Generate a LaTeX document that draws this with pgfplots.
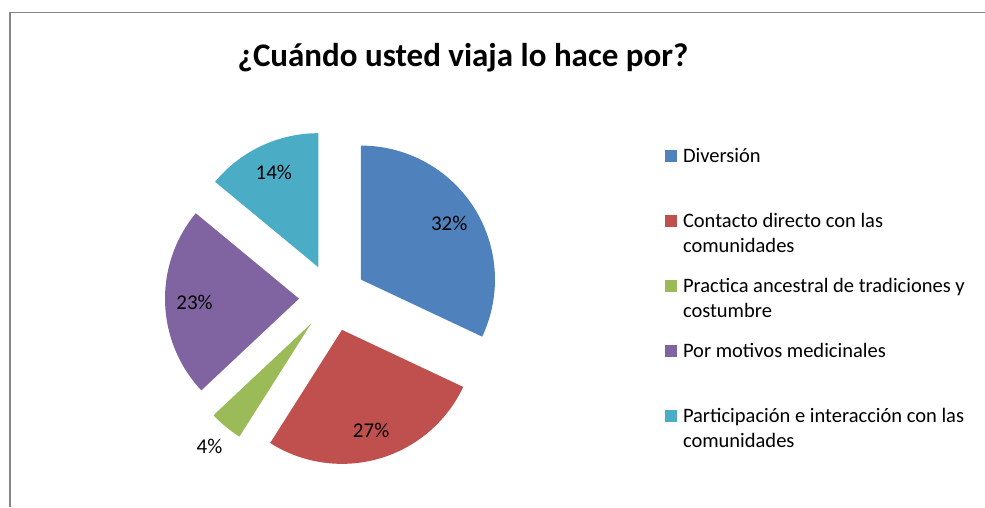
\documentclass[border=0pt]{standalone}
\usepackage{pgfplots}
\pgfplotsset{compat=1.18}
\usepackage{fontspec}
\setmainfont{Carlito}
\definecolor{cblue}{HTML}{4F81BD}
\definecolor{cred}{HTML}{C0504D}
\definecolor{cgreen}{HTML}{9BBB59}
\definecolor{cpurple}{HTML}{8064A2}
\definecolor{ccyan}{HTML}{4BACC6}
\definecolor{framegray}{HTML}{868686}
\def\cx{332.6}\def\cy{209.4}\def\rad{134}\def\dexp{33.6}
% #1 cumulative share before, #2 share, #3 colour, #4 label distance factor
\newcommand\slice[4]{%
  \pgfmathsetmacro\sa{90-3.6*#1}%
  \pgfmathsetmacro\ea{90-3.6*(#1+#2)}%
  \pgfmathsetmacro\ma{(\sa+\ea)/2}%
  \pgfmathsetmacro\apx{\cx+\dexp*cos(\ma)}%
  \pgfmathsetmacro\apy{\cy+\dexp*sin(\ma)}%
  \pgfmathsetmacro\lx{\apx+#4*\rad*cos(\ma)}%
  \pgfmathsetmacro\ly{\apy+#4*\rad*sin(\ma)}%
  \edef\next{\noexpand\addplot[fill=#3,draw=none,domain=\ea:\sa,samples=90]
     ({\apx+\rad*cos(x)},{\apy+\rad*sin(x)}) -- (axis cs:\apx,\apy) -- cycle;
   \noexpand\node[font=\noexpand\fontsize{21}{25}\noexpand\selectfont] at (axis cs:\lx,\ly) {#2\noexpand\%};}%
  \next}
\newcommand\two[2]{\parbox[t]{310pt}{\raggedright #1\\#2}}
\begin{document}
\begin{tikzpicture}
\begin{axis}[width=985pt,height=507pt,scale only axis,
  xmin=0,xmax=985,ymin=0,ymax=507,hide axis,clip=false,
  legend cell align=left,
  legend image code/.code={\fill[#1] (0pt,0pt) rectangle (12pt,12pt);},
  legend style={draw=none,fill=none,at={(axis cs:665,359)},anchor=north west,
    inner sep=0pt,outer sep=0pt,row sep=0pt,column sep=6pt,
    nodes={anchor=base west,inner sep=0pt,outer sep=0pt,text height=14pt,text depth=51pt,
      font=\fontsize{20.5}{25}\selectfont}}]
\addplot[framegray,line width=1.4pt,forget plot] coordinates {(10,0) (10,494.5) (985,494.5)};
\slice{0}{32}{cblue}{0.78}
\addlegendentry{Diversión}
\slice{32}{27}{cred}{0.78}
\addlegendentry{\two{Contacto directo con las}{comunidades}}
\slice{59}{4}{cgreen}{1.19}
\addlegendentry{\two{Practica ancestral de tradiciones y}{costumbre}}
\slice{63}{23}{cpurple}{0.78}
\addlegendentry{Por motivos medicinales}
\slice{86}{14}{ccyan}{0.78}
\addlegendentry{\two{Participación e interacción con las}{comunidades}}
\node[font=\bfseries\fontsize{33}{40}\selectfont,anchor=base] at (axis cs:463,440) {¿Cuándo usted viaja lo hace por?};
\end{axis}
\pgfresetboundingbox
\path[use as bounding box] (current axis.south west) rectangle (current axis.north east);
\end{tikzpicture}
\end{document}
